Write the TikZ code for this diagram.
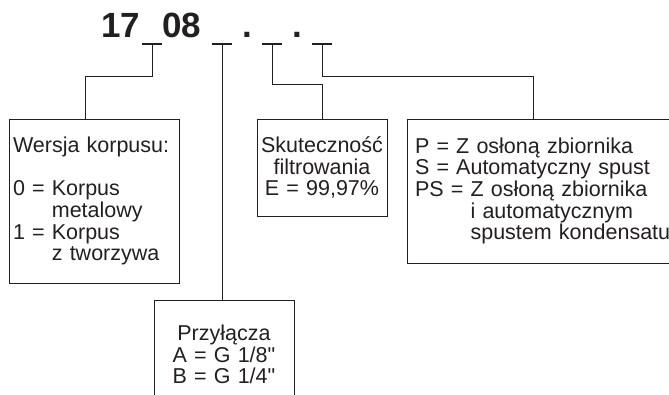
\documentclass[tikz,border=0pt]{standalone}
\usepackage{fontspec}
\setmainfont{Liberation Sans}
\usetikzlibrary{positioning,calc}
\definecolor{ink}{HTML}{231F20}

\begin{document}
\begin{tikzpicture}[
    x=1pt, y=-1pt,
    every node/.style={text=ink},
    box/.style={rectangle, draw=ink, line width=1pt, outer sep=0pt, inner xsep=4pt, inner ysep=0pt, anchor=north west, font=\fontsize{21.5}{21.7}\selectfont},
    title/.style={font=\fontsize{35}{40}\selectfont\bfseries, inner sep=0pt, anchor=base west},
    slot/.style={draw=ink, line width=2.3pt},
    line/.style={draw=ink, line width=1pt}
]
\useasboundingbox (0,0) rectangle (669,394);

% Type code
\node [title] (num_a) at (101,37.3) {17};
\node [title] (num_b) at (162,37.3) {08};
\node [title] (dot_a) at (242.5,37.3) {.};
\node [title] (dot_b) at (292.5,37.3) {.};

% Code slots
\coordinate (s1) at (152,44);
\coordinate (s2) at (222,44);
\coordinate (s3) at (272,44);
\coordinate (s4) at (322,44);
\foreach \s in {s1,s2,s3,s4}
    \path [slot] ([xshift=-10pt]\s) -- ([xshift=10pt]\s);

% Body version
\node [box, minimum width=170pt, minimum height=164pt, text width=162pt, align=left] (body_box) at (9,119)
    {Wersja korpusu:\\[21.7pt]
     0 = Korpus\\
     \hphantom{0 = }metalowy\\
     1 = Korpus\\
     \hphantom{1 = }z tworzywa};

% Ports
\node [box, minimum width=140pt, minimum height=109pt, text width=132pt, align=center] (port_box) at (154,300)
    {Przyłącza\\ A = G 1/8\textquotedbl\\ B = G 1/4\textquotedbl};

% Filtration
\node [box, minimum width=130pt, minimum height=97pt, text width=122pt, align=center] (filter_box) at (257,119)
    {Skuteczność\\ filtrowania\\ E = 99,97\%};

% Options
\node [box, inner xsep=8pt, minimum width=283pt, minimum height=144pt, text width=267pt, align=left] (option_box) at (407,119)
    {P = Z osłoną zbiornika\\
     S = Automatyczny spust\\
     PS = Z osłoną zbiornika\\
     \hphantom{PS = }i automatycznym\\
     \hphantom{PS = }spustem kondensatu};

% Connections
\path [line] (s1) -- ++(0,32) -| ([xshift=76pt]body_box.north west);
\path [line] (s2) -- (s2 |- port_box.north);
\path [line] (s3) -- ++(0,40) -| ([xshift=65pt]filter_box.north west);
\path [line] (s4) -- ++(0,32) -| ([xshift=126pt]option_box.north west);

\end{tikzpicture}
\end{document}
